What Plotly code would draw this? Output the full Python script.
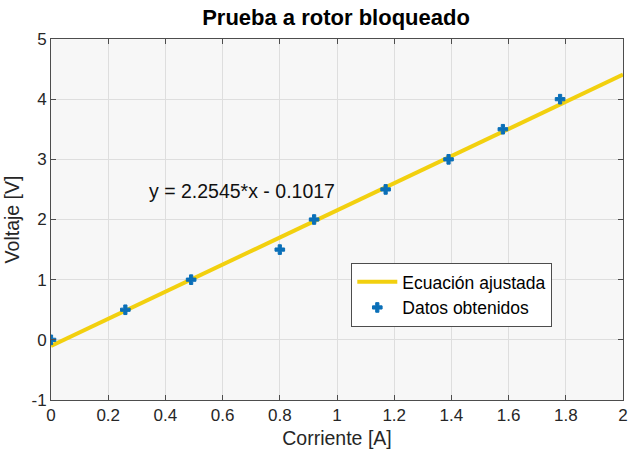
import plotly.graph_objects as go

# Measured data
corriente = [0.0, 0.26, 0.49, 0.80, 0.92, 1.17, 1.39, 1.58, 1.78]
voltaje = [0.0, 0.5, 1.0, 1.5, 2.0, 2.5, 3.0, 3.5, 4.0]

# Fitted line coefficients
pendiente = 2.2545
intercepto = -0.1017
x_ajuste = [0.0, 2.0]
y_ajuste = [pendiente * x + intercepto for x in x_ajuste]

x_ticks = [0, 0.2, 0.4, 0.6, 0.8, 1, 1.2, 1.4, 1.6, 1.8, 2]
y_ticks = [-1, 0, 1, 2, 3, 4, 5]

font = "Liberation Sans, Arial, sans-serif"

fig = go.Figure()
fig.add_trace(go.Scatter(
    x=x_ajuste, y=y_ajuste, mode="lines",
    line=dict(color="#f2d00f", width=4),
    name="Ecuación ajustada",
))
fig.add_trace(go.Scatter(
    x=corriente, y=voltaje, mode="markers",
    marker=dict(symbol="cross", size=8, color="#0a6fb8",
                line=dict(color="#0a6fb8", width=1)),
    name="Datos obtenidos",
))

fig.add_annotation(
    x=0.335, y=2.47, xref="x", yref="y",
    text=f"y = {pendiente}*x - {abs(intercepto)}",
    showarrow=False, xanchor="left", yanchor="middle",
    font=dict(family=font, size=19.5, color="#111111"),
)

axis_common = dict(
    showgrid=True, gridcolor="#dedede", gridwidth=1,
    showline=True, linecolor="#4d4d4d", linewidth=1, mirror="ticks",
    ticks="inside", ticklen=5, tickcolor="#4d4d4d",
    zeroline=False,
    tickfont=dict(family=font, size=17, color="#262626"),
)

fig.update_xaxes(
    range=[0, 2], tickvals=x_ticks,
    ticktext=[f"{v:g}" for v in x_ticks],
    title=dict(text="Corriente [A]", font=dict(family=font, size=19.5, color="#262626"), standoff=6),
    **axis_common,
)
fig.update_yaxes(
    range=[-1, 5], tickvals=y_ticks,
    ticktext=[f"{v:g}" for v in y_ticks],
    title=dict(text="Voltaje [V]", font=dict(family=font, size=19.5, color="#262626"), standoff=6),
    **axis_common,
)

fig.update_layout(
    width=634, height=456,
    margin=dict(l=51, r=6, t=39, b=56),
    paper_bgcolor="white", plot_bgcolor="#f7f7f7",
    title=dict(
        text="<b>Prueba a rotor bloqueado</b>",
        x=0.53, xanchor="center", y=0.962, yanchor="middle",
        font=dict(family=font, size=22, color="black"),
    ),
    showlegend=True,
    legend=dict(
        x=0.525, y=0.38, xanchor="left", yanchor="top",
        bgcolor="white", bordercolor="#4d4d4d", borderwidth=1,
        font=dict(family=font, size=17.5, color="black"),
        tracegroupgap=0, itemwidth=40,
    ),
)

fig.write_html("out.html")
